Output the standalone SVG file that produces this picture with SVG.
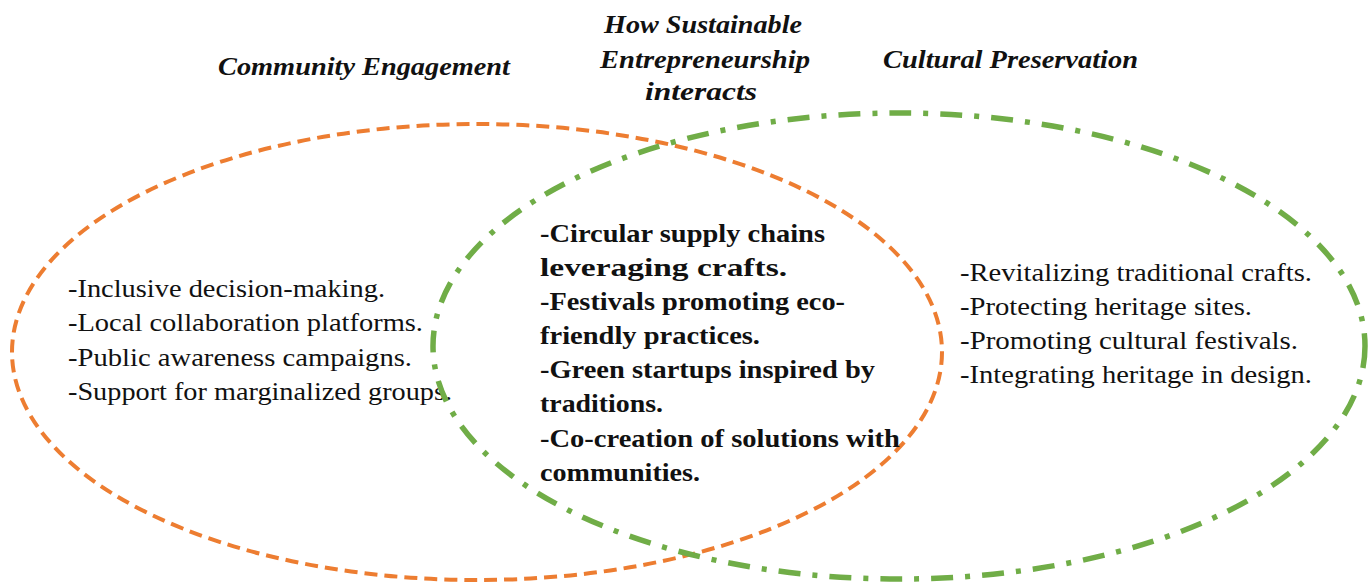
<svg xmlns="http://www.w3.org/2000/svg" width="1368" height="584" viewBox="0 0 1368 584">
<style>
.title{font-family:"Liberation Serif",serif;font-weight:bold;font-style:italic;font-size:26px;fill:#111}
.body{font-family:"Liberation Serif",serif;font-size:25px;fill:#111}
.bold{font-family:"Liberation Serif",serif;font-weight:bold;font-size:25px;fill:#111}
.orange{fill:none;stroke:#ed7d31;stroke-width:4;stroke-dasharray:13 7}
.green{fill:none;stroke:#70ad47;stroke-width:5.5;stroke-dasharray:22 12 5 12}
</style>
<rect width="1368" height="584" fill="#fff"/>
<g id="connectors"></g>
<g id="community">
<ellipse class="orange" cx="477" cy="352" rx="465" ry="228"/>
<text class="title" x="218" y="75" textLength="292" lengthAdjust="spacingAndGlyphs">Community Engagement</text>
<text class="body" x="68" y="297" textLength="317" lengthAdjust="spacingAndGlyphs">-Inclusive decision-making.</text>
<text class="body" x="68" y="331" textLength="355" lengthAdjust="spacingAndGlyphs">-Local collaboration platforms.</text>
<text class="body" x="68" y="366" textLength="344" lengthAdjust="spacingAndGlyphs">-Public awareness campaigns.</text>
<text class="body" x="68" y="400" textLength="384" lengthAdjust="spacingAndGlyphs">-Support for marginalized groups.</text>
</g>
<g id="cultural">
<ellipse class="green" cx="899" cy="346" rx="466" ry="233"/>
<text class="title" x="883" y="68" textLength="255" lengthAdjust="spacingAndGlyphs">Cultural Preservation</text>
<text class="body" x="960" y="281" textLength="352" lengthAdjust="spacingAndGlyphs">-Revitalizing traditional crafts.</text>
<text class="body" x="960" y="315" textLength="292" lengthAdjust="spacingAndGlyphs">-Protecting heritage sites.</text>
<text class="body" x="960" y="349" textLength="338" lengthAdjust="spacingAndGlyphs">-Promoting cultural festivals.</text>
<text class="body" x="960" y="383" textLength="352" lengthAdjust="spacingAndGlyphs">-Integrating heritage in design.</text>
</g>
<g id="intersection">
<text class="title" x="604" y="33" textLength="198" lengthAdjust="spacingAndGlyphs">How Sustainable</text>
<text class="title" x="600" y="68" textLength="210" lengthAdjust="spacingAndGlyphs">Entrepreneurship</text>
<text class="title" x="645" y="100" textLength="112" lengthAdjust="spacingAndGlyphs">interacts</text>
<text class="bold" x="540" y="242" textLength="285" lengthAdjust="spacingAndGlyphs">-Circular supply chains</text>
<text class="bold" x="540" y="276" textLength="247" lengthAdjust="spacingAndGlyphs">leveraging crafts.</text>
<text class="bold" x="540" y="310" textLength="305" lengthAdjust="spacingAndGlyphs">-Festivals promoting eco-</text>
<text class="bold" x="540" y="344" textLength="220" lengthAdjust="spacingAndGlyphs">friendly practices.</text>
<text class="bold" x="540" y="378" textLength="335" lengthAdjust="spacingAndGlyphs">-Green startups inspired by</text>
<text class="bold" x="540" y="412" textLength="123" lengthAdjust="spacingAndGlyphs">traditions.</text>
<text class="bold" x="540" y="447" textLength="360" lengthAdjust="spacingAndGlyphs">-Co-creation of solutions with</text>
<text class="bold" x="540" y="481" textLength="160" lengthAdjust="spacingAndGlyphs">communities.</text>
</g>
</svg>
